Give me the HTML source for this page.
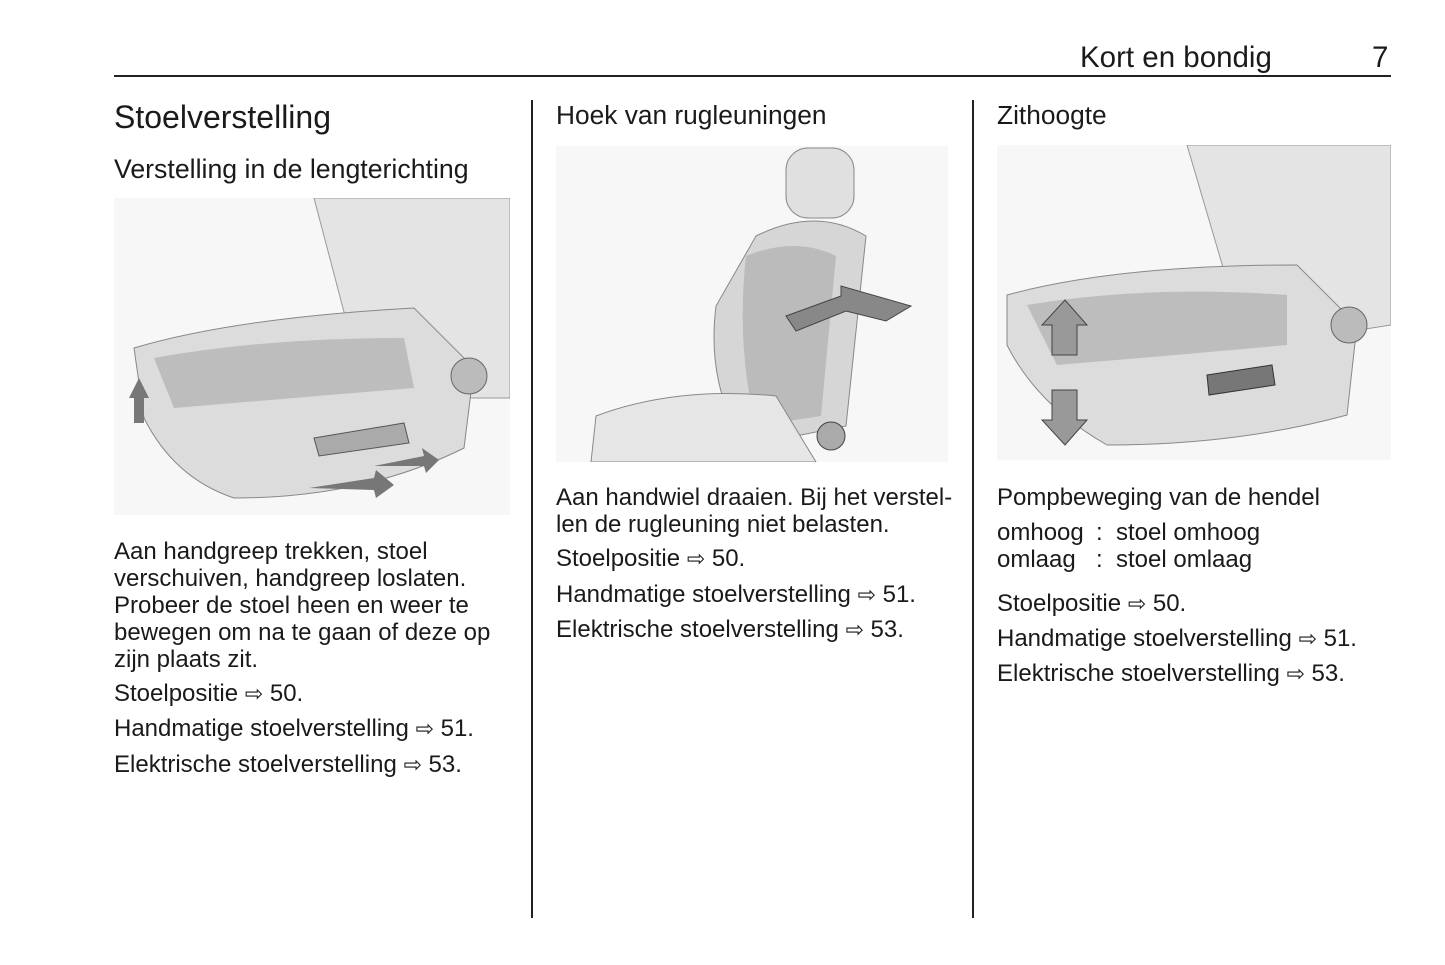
<!DOCTYPE html>
<html><head><meta charset="utf-8"><style>
body{margin:0;width:1445px;height:965px;background:#fff;position:relative;font-family:"Liberation Sans",sans-serif;color:#1a1a1a;overflow:hidden}
.a{position:absolute;white-space:nowrap}
.t{font-size:24px;line-height:27px}
.ar{font-family:"DejaVu Sans",sans-serif;font-size:22px}
</style></head><body>
<div class="a" style="left:1080px;top:41px;font-size:29.5px">Kort en bondig</div>
<div class="a" style="left:1372px;top:41px;font-size:29.5px">7</div>
<div class="a" style="left:114px;top:75px;width:1277px;height:2px;background:#222"></div>
<div class="a" style="left:531px;top:100px;width:2px;height:818px;background:#222"></div>
<div class="a" style="left:972px;top:100px;width:2px;height:818px;background:#222"></div>

<div class="a" style="left:114px;top:99px;font-size:32px">Stoelverstelling</div>
<div class="a" style="left:114px;top:154px;font-size:26.7px">Verstelling in de lengterichting</div>
<svg class="a" style="left:114px;top:198px" width="396" height="317">
<rect width="396" height="317" fill="#f7f7f7"/>
<path d="M200 0 L396 0 L396 200 L340 200 L250 190 Z" fill="#e4e4e4" stroke="#999"/>
<path d="M20 150 Q120 120 300 110 L360 170 L350 250 Q250 300 120 300 Q60 280 30 220 Z" fill="#dcdcdc" stroke="#888"/>
<path d="M40 160 Q150 140 290 140 L300 190 Q180 200 60 210 Z" fill="#bdbdbd"/>
<circle cx="355" cy="178" r="18" fill="#bbb" stroke="#666"/>
<path d="M200 240 L290 225 L295 245 L205 258 Z" fill="#aaa" stroke="#555"/>
<path d="M15 200 L25 180 L35 200 L30 200 L30 225 L20 225 L20 200 Z" fill="#777"/>
<path d="M195 290 L260 280 L262 272 L280 287 L262 300 L260 292 Z" fill="#777"/>
<path d="M260 268 L310 258 L308 250 L325 262 L312 275 L310 268 Z" fill="#777"/>
</svg>
<div class="a t" style="left:114px;top:538px">Aan handgreep trekken, stoel<br>verschuiven, handgreep loslaten.<br>Probeer de stoel heen en weer te<br>bewegen om na te gaan of deze op<br>zijn plaats zit.</div>
<div class="a t" style="left:114px;top:680px">Stoelpositie <span class="ar">⇨</span> 50.</div>
<div class="a t" style="left:114px;top:715px">Handmatige stoelverstelling <span class="ar">⇨</span> 51.</div>
<div class="a t" style="left:114px;top:751px">Elektrische stoelverstelling <span class="ar">⇨</span> 53.</div>

<div class="a" style="left:556px;top:100px;font-size:26.3px">Hoek van rugleuningen</div>
<svg class="a" style="left:556px;top:146px" width="392" height="316">
<rect width="392" height="316" fill="#f7f7f7"/>
<rect x="230" y="2" width="68" height="70" rx="22" fill="#e0e0e0" stroke="#888"/>
<path d="M200 90 Q260 60 310 90 L290 280 L190 300 Q150 240 160 160 Z" fill="#d6d6d6" stroke="#888"/>
<path d="M190 110 Q240 90 280 110 L265 270 L200 280 Q180 200 190 110 Z" fill="#bbb"/>
<path d="M40 270 Q120 240 220 250 L260 316 L35 316 Z" fill="#e6e6e6" stroke="#888"/>
<path d="M230 170 L285 150 L285 140 L355 160 L330 175 L290 165 L240 185 Z" fill="#888" stroke="#444"/>
<circle cx="275" cy="290" r="14" fill="#aaa" stroke="#444"/>
</svg>
<div class="a t" style="left:556px;top:484px">Aan handwiel draaien. Bij het verstel-<br>len de rugleuning niet belasten.</div>
<div class="a t" style="left:556px;top:545px">Stoelpositie <span class="ar">⇨</span> 50.</div>
<div class="a t" style="left:556px;top:581px">Handmatige stoelverstelling <span class="ar">⇨</span> 51.</div>
<div class="a t" style="left:556px;top:616px">Elektrische stoelverstelling <span class="ar">⇨</span> 53.</div>

<div class="a" style="left:997px;top:100px;font-size:26.3px">Zithoogte</div>
<svg class="a" style="left:997px;top:145px" width="394" height="315">
<rect width="394" height="315" fill="#f7f7f7"/>
<path d="M190 0 L394 0 L394 180 L330 190 L240 170 Z" fill="#e4e4e4" stroke="#999"/>
<path d="M10 150 Q120 120 300 120 L360 180 L350 270 Q240 300 110 300 Q40 260 10 200 Z" fill="#dcdcdc" stroke="#888"/>
<path d="M30 160 Q150 140 290 150 L290 200 Q180 210 60 220 Z" fill="#bdbdbd"/>
<circle cx="352" cy="180" r="18" fill="#bbb" stroke="#666"/>
<path d="M210 230 L275 220 L278 240 L212 250 Z" fill="#777" stroke="#333"/>
<path d="M55 210 L55 180 L45 180 L68 155 L90 180 L80 180 L80 210 Z" fill="#999" stroke="#444"/>
<path d="M55 245 L55 275 L45 275 L68 300 L90 275 L80 275 L80 245 Z" fill="#999" stroke="#444"/>
</svg>
<div class="a t" style="left:997px;top:484px">Pompbeweging van de hendel</div>
<div class="a t" style="left:997px;top:519px">omhoog</div><div class="a t" style="left:1096px;top:519px">:&nbsp; stoel omhoog</div>
<div class="a t" style="left:997px;top:546px">omlaag</div><div class="a t" style="left:1096px;top:546px">:&nbsp; stoel omlaag</div>
<div class="a t" style="left:997px;top:590px">Stoelpositie <span class="ar">⇨</span> 50.</div>
<div class="a t" style="left:997px;top:625px">Handmatige stoelverstelling <span class="ar">⇨</span> 51.</div>
<div class="a t" style="left:997px;top:660px">Elektrische stoelverstelling <span class="ar">⇨</span> 53.</div>
</body></html>
